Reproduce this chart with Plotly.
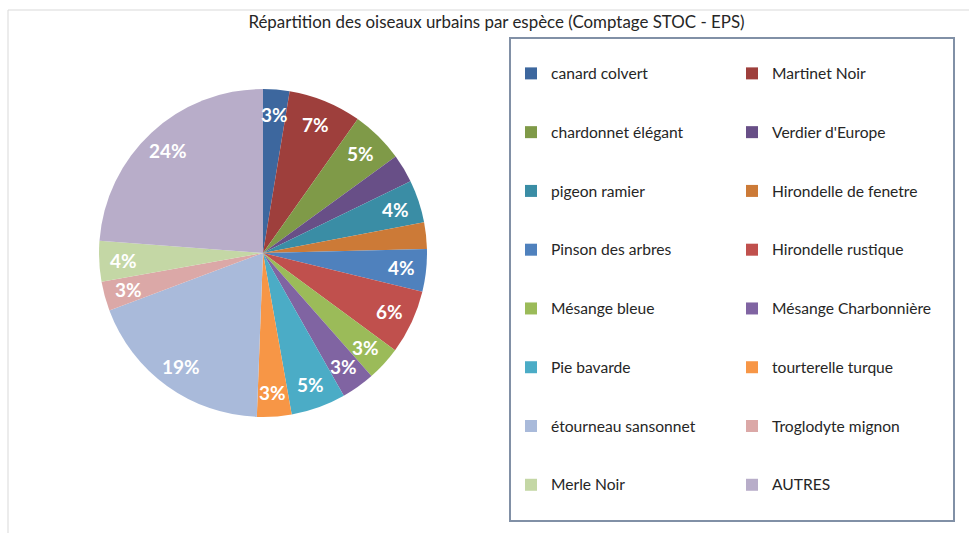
import numpy as np
import plotly.graph_objects as go

species = ["canard colvert", "Martinet Noir", "chardonnet élégant", "Verdier d'Europe",
           "pigeon ramier", "Hirondelle de fenetre", "Pinson des arbres", "Hirondelle rustique",
           "Mésange bleue", "Mésange Charbonnière", "Pie bavarde", "tourterelle turque",
           "étourneau sansonnet", "Troglodyte mignon", "Merle Noir", "AUTRES"]
shares = [2.6, 7.2, 5.2, 2.8, 4.2, 2.6, 4.2, 6.3, 3.4, 3.3, 5.4, 3.4, 18.7, 2.9, 4.0, 23.8]
show_label = [True, True, True, False, True, False, True, True, True, True, True, True, True, True, True, True]
colors = ["#3D679E", "#9E3F3C", "#7F9A48", "#684F87", "#3A8DA5", "#CC7A37",
          "#4F81BD", "#C0504D", "#9BBB59", "#8064A2", "#4BACC6", "#F79646",
          "#A9BADA", "#DBA8A7", "#C4D7A5", "#B8ADC9"]
title = "Répartition des oiseaux urbains par espèce (Comptage STOC - EPS)"

W, H = 969, 533
FONT = "Lato"
TXT = "#262626"

# pie placement (pixels): centre (263, 253), radius 164; plot area = left 509 px
dom_x = [(263 - 164) / 509, (263 + 164) / 509]
dom_y = [(280 - 164) / 533, (280 + 164) / 533]

# blank lines above/below each name give the wide row spacing of the original legend
legend_names = ["&nbsp;<br><span style='font-size:15.6px'>" + n + "</span><br>&nbsp;" for n in species]

fig = go.Figure(go.Pie(
    labels=legend_names,
    values=shares,
    sort=False,
    direction="clockwise",
    rotation=0,
    marker=dict(colors=colors, line=dict(width=0)),
    textinfo="none",
    hoverinfo="label+percent",
    domain=dict(x=dom_x, y=dom_y),
))

# data labels: placed along each slice's mid-angle, near the rim (as in the original)
vals = np.array(shares, dtype=float)
frac = vals / vals.sum()
mid = np.cumsum(frac) - frac / 2
theta = 2 * np.pi * mid
rr = 0.85
annotations = []
for f, t, s in zip(frac, theta, show_label):
    if not s:
        continue
    annotations.append(dict(
        x=float(rr * np.sin(t)), y=float(rr * np.cos(t)), xref="x", yref="y",
        text=f"{round(f * 100)}%", showarrow=False, xanchor="center", yanchor="middle",
        font=dict(family=FONT, size=19, color="white", weight="bold"),
    ))

fig.update_layout(
    width=W, height=H,
    margin=dict(l=0, r=460, t=0, b=0, autoexpand=False),
    paper_bgcolor="white",
    plot_bgcolor="rgba(0,0,0,0)",
    font=dict(family=FONT, color=TXT),
    xaxis=dict(domain=dom_x, range=[-1, 1], visible=False, fixedrange=True),
    yaxis=dict(domain=dom_y, range=[-1, 1], visible=False, fixedrange=True),
    annotations=annotations,
    title=dict(text=title, x=496.5 / W, y=1 - 22 / H, xref="container", yref="container",
               xanchor="center", yanchor="middle", font=dict(family=FONT, size=16.9, color=TXT)),
    legend=dict(orientation="h", x=1.0, xanchor="left", y=1 - 37 / H, yanchor="top",
                entrywidth=176, entrywidthmode="pixels", maxheight=1.0,
                bordercolor="#8190A6", borderwidth=2, bgcolor="white",
                font=dict(family=FONT, size=14.3, color=TXT), valign="middle"),
    shapes=[dict(type="rect", xref="paper", yref="paper", x0=8 / 509, x1=1100 / 509,
                 y0=-0.1, y1=1 - 10 / H, line=dict(color="#D9D9D9", width=1), layer="below")],
)

fig.write_html("out.html", config={"displayModeBar": False},
               post_script="document.body.style.margin='0';")
